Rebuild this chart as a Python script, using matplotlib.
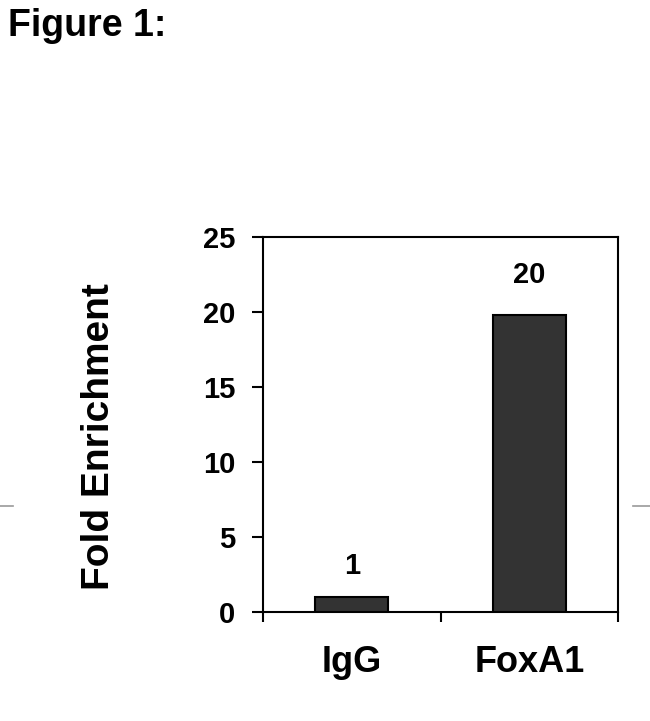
import matplotlib
matplotlib.use("Agg")
import matplotlib.pyplot as plt
from matplotlib.lines import Line2D

# Values
categories = ["IgG", "FoxA1"]
fold_enrichment = [1.0, 19.8]
bar_labels = ["1", "20"]
y_ticks = [0, 5, 10, 15, 20, 25]

plt.rcParams["font.family"] = ["Liberation Sans", "DejaVu Sans"]
plt.rcParams["font.weight"] = "bold"

fig = plt.figure(figsize=(6.5, 7.21), dpi=100)
ax = fig.add_axes([0.4046, 0.1512, 0.5462, 0.5201])

x = list(range(len(categories)))
ax.bar(x, fold_enrichment, width=0.41, color="#333333",
       edgecolor="black", linewidth=1.5, zorder=3)

# value labels above the bars
label_offsets = [12, 19]
for xi, val, lab, off in zip(x, fold_enrichment, bar_labels, label_offsets):
    ax.annotate(lab, (xi, val), xytext=(0, off), textcoords="offset points",
                ha="center", va="bottom", fontsize=21, fontweight="bold")

ax.set_xlim(-0.5, len(categories) - 0.5)
ax.set_ylim(0, 25)
ax.set_yticks(y_ticks)
ax.set_yticklabels([str(t) for t in y_ticks], fontsize=21, fontweight="bold")
ax.tick_params(axis="y", direction="out", length=8, width=1.5, pad=12)

# major x ticks sit between categories, labels go on minor ticks
ax.set_xticks([i - 0.5 for i in range(len(categories) + 1)])
ax.set_xticklabels([])
ax.tick_params(axis="x", which="major", direction="out", length=7, width=1.5)
ax.set_xticks(x, minor=True)
ax.set_xticklabels(categories, minor=True, fontsize=26, fontweight="bold")
ax.tick_params(axis="x", which="minor", length=0, pad=24)

for sp in ax.spines.values():
    sp.set_linewidth(1.5)

ax.set_ylabel("Fold Enrichment", fontsize=28, fontweight="bold")
ax.yaxis.set_label_coords(-0.411, 0.469)

fig.text(0.012, 0.989, "Figure 1:", fontsize=27, fontweight="bold",
         ha="left", va="top")

# faint page marks at the sides
fig.add_artist(Line2D([0.0, 0.02], [0.298, 0.298], color="#999999", lw=1.2))
fig.add_artist(Line2D([0.974, 1.0], [0.298, 0.298], color="#999999", lw=1.2))

fig.savefig("out.png", dpi=100)
